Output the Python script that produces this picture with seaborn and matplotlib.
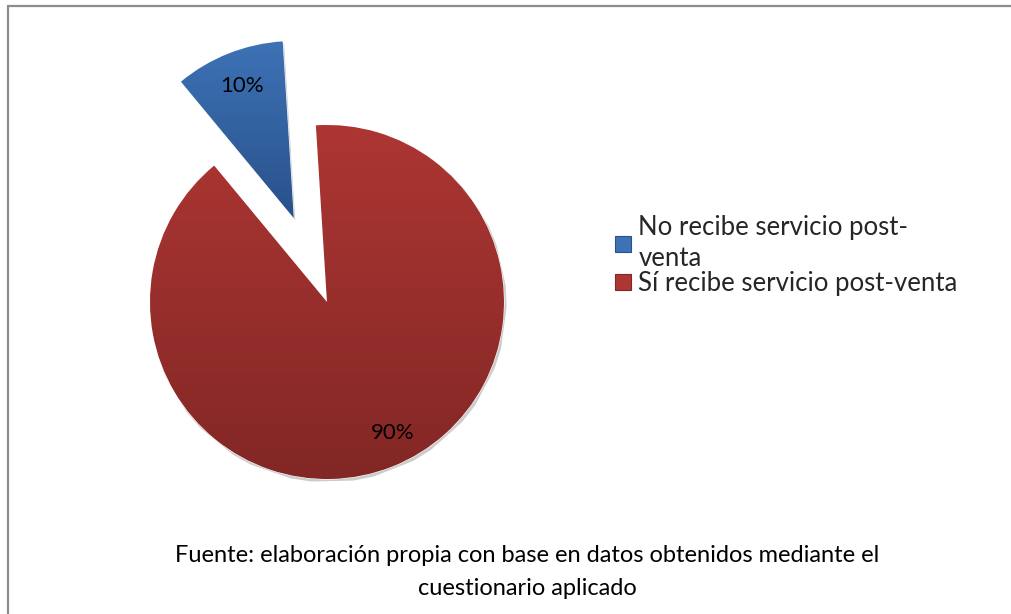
import numpy as np
import matplotlib
matplotlib.use("Agg")
import matplotlib.pyplot as plt
from matplotlib.lines import Line2D
from matplotlib.colors import LinearSegmentedColormap
import seaborn as sns

# ---- data ----
labels = ["No recibe servicio post-\nventa", "Sí recibe servicio post-venta"]
values = [10, 90]
explode = [0.51, 0.0]
caption = ("Fuente: elaboración propia con base en datos obtenidos mediante el\n"
           "cuestionario aplicado")

# ---- style ----
sns.set_theme(style="white")
plt.rcParams["font.family"] = ["Lato", "DejaVu Sans"]

top_colors = ["#3d72b6", "#ad3633"]
bot_colors = ["#29518a", "#822725"]

W, H = 1011, 614
fig = plt.figure(figsize=(W / 100, H / 100), dpi=100)
fig.patch.set_facecolor("white")

cx, cy, R = 327, 302, 177  # pie centre (px from top-left) and radius in px
ax = fig.add_axes([0, 0, 1, 1])

wedges, texts, autotexts = ax.pie(
    values, explode=explode, colors=top_colors, startangle=93.6,
    counterclock=True, radius=1.0, autopct="%1.0f%%", pctdistance=0.8,
    textprops=dict(color="black", fontsize=16),
    wedgeprops=dict(linewidth=0.8, edgecolor="#ffffff"),
    frame=False,
)

# nudge the 90% label a little along its wedge (as in the reference)
w = wedges[1]
ang = np.deg2rad((w.theta1 + w.theta2) / 2 + 5)
autotexts[1].set_position((w.center[0] + 0.83 * np.cos(ang), w.center[1] + 0.83 * np.sin(ang)))

# subtle shadow + vertical gradient fill clipped to each wedge
for w, c0, c1 in zip(wedges, top_colors, bot_colors):
    ext = w.get_path().get_extents()
    cmap = LinearSegmentedColormap.from_list("g", [c1, c0])
    grad = np.linspace(0, 1, 256).reshape(-1, 1)
    im = ax.imshow(grad, cmap=cmap, origin="lower", aspect="auto",
                   extent=[ext.x0, ext.x1, ext.y0, ext.y1], zorder=w.get_zorder() + 0.1,
                   interpolation="bilinear")
    im.set_clip_path(w)
    sh = plt.Polygon(w.get_path().vertices + np.array([0.008, -0.012]),
                     closed=True, facecolor="#9a9a9a", edgecolor="none", alpha=0.5,
                     zorder=w.get_zorder() - 0.2)
    ax.add_patch(sh)
for t in autotexts:
    t.set_zorder(10)
ax.set_xlim(-cx / R, (W - cx) / R)
ax.set_ylim(-(H - cy) / R, cy / R)
ax.set_aspect("auto")
ax.axis("off")

# legend
handles = [plt.Rectangle((0, 0), 1, 1, facecolor=c, edgecolor=b, linewidth=0.8)
           for c, b in zip(top_colors, bot_colors)]
leg = fig.legend(handles, labels, loc="upper left",
                 bbox_to_anchor=(605 / W, 1 - 205 / H), frameon=False,
                 fontsize=18.5, handlelength=0.6, handleheight=0.6,
                 handletextpad=0.3, labelspacing=0.0, borderaxespad=0)
for t in leg.get_texts():
    t.set_linespacing(1.3)

# caption
fig.text(527 / W, 1 - 572 / H, caption, ha="center", va="center",
         fontsize=17, linespacing=1.65, color="black")

# frame lines (top and left)
fig.add_artist(Line2D([7.5 / W, 1], [1 - 6 / H, 1 - 6 / H], color="#8c8c8c", lw=1.6,
                      transform=fig.transFigure))
fig.add_artist(Line2D([7.5 / W, 7.5 / W], [0, 1 - 6 / H], color="#8c8c8c", lw=1.6,
                      transform=fig.transFigure))

fig.savefig("out.png", dpi=100, facecolor="white")
